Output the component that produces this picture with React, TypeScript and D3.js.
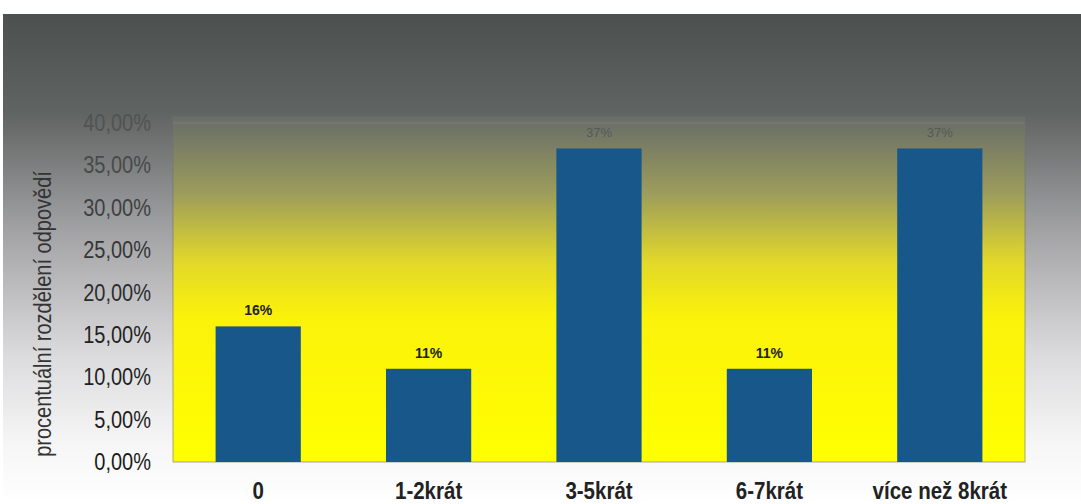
import React from "react";
import * as d3 from "d3";

const categories = ["0", "1-2krát", "3-5krát", "6-7krát", "více než 8krát"];
const values = [16, 11, 37, 11, 37];
const valueLabels = ["16%", "11%", "37%", "11%", "37%"];
const yTicks = [0, 5, 10, 15, 20, 25, 30, 35, 40];
const yTitle = "procentuální rozdělení odpovědí";

const W = 1081;
const H = 504;
const plot = { left: 173, right: 1025, top: 123, bottom: 462 };
const frameTop = 117;
const stretch = 1.15;

export default function App() {
  const x = d3
    .scaleBand<string>()
    .domain(categories)
    .range([plot.left, plot.right])
    .paddingInner(0.5)
    .paddingOuter(0.25);
  const y = d3.scaleLinear().domain([0, 40]).range([plot.bottom, plot.top]);
  const fmt = (v: number) => d3.format(".2f")(v).replace(".", ",") + "%";
  const tickColor = d3
    .scaleLinear<string>()
    .domain([0, 15, 40])
    .range(["#1a1a1a", "#222222", "#4f5452"]);

  return (
    <svg
      width={W}
      height={H}
      style={{ position: "absolute", left: 0, top: 0, display: "block" }}
      fontFamily="'Liberation Sans', Arial, sans-serif"
    >
      <defs>
        <linearGradient id="bg" x1="0" y1="0" x2="0" y2="1">
          <stop offset="0%" stopColor="#4c514f" />
          <stop offset="20%" stopColor="#5f6361" />
          <stop offset="45%" stopColor="#a4a4a7" />
          <stop offset="70%" stopColor="#dcdcde" />
          <stop offset="88%" stopColor="#f6f6f6" />
          <stop offset="100%" stopColor="#ffffff" />
        </linearGradient>
        <linearGradient id="plotbg" x1="0" y1="0" x2="0" y2="1">
          <stop offset="0%" stopColor="#676c68" />
          <stop offset="22%" stopColor="#9c9c5c" />
          <stop offset="42%" stopColor="#e2d82a" />
          <stop offset="58%" stopColor="#fbf20a" />
          <stop offset="100%" stopColor="#ffff00" />
        </linearGradient>
      </defs>
      <rect x={0} y={0} width={W} height={H} fill="#ffffff" />
      <rect x={3} y={14} width={W - 3} height={H - 14} fill="url(#bg)" />
      <rect
        x={plot.left}
        y={frameTop}
        width={plot.right - plot.left}
        height={plot.bottom - frameTop}
        fill="url(#plotbg)"
      />
      <rect
        x={plot.left}
        y={frameTop}
        width={plot.right - plot.left}
        height={plot.bottom - frameTop}
        fill="none"
        stroke="#6f7470"
        strokeOpacity={0.6}
      />
      <line
        x1={plot.left}
        x2={plot.right}
        y1={y(40)}
        y2={y(40)}
        stroke="#7a7e7a"
        strokeWidth={1}
      />
      {yTicks.map((t) => (
        <text
          key={t}
          transform={`translate(151,${y(t)}) scale(1,${stretch})`}
          dy="0.35em"
          textAnchor="end"
          fontSize={20}
          fill={tickColor(t)}
        >
          {fmt(t)}
        </text>
      ))}
      <text
        transform={`translate(51,${314}) rotate(-90) scale(1,${stretch})`}
        textAnchor="middle"
        fontSize={20}
        fill="#333"
      >
        {yTitle}
      </text>
      {categories.map((c, i) => {
        const cx = (x(c) as number) + x.bandwidth() / 2;
        const big = values[i] > 30;
        return (
          <g key={c}>
            <rect
              x={x(c)}
              y={y(values[i])}
              width={x.bandwidth()}
              height={plot.bottom - y(values[i])}
              fill="#175789"
            />
            <text
              x={cx}
              y={y(values[i]) - 11}
              textAnchor="middle"
              fontSize={big ? 13 : 14}
              fontWeight={big ? "normal" : "bold"}
              fill={big ? "#555a57" : "#222"}
            >
              {valueLabels[i]}
            </text>
            <text
              transform={`translate(${cx},499) scale(1,${stretch})`}
              textAnchor="middle"
              fontSize={20.5}
              fontWeight="bold"
              fill="#222"
            >
              {c}
            </text>
          </g>
        );
      })}
    </svg>
  );
}
